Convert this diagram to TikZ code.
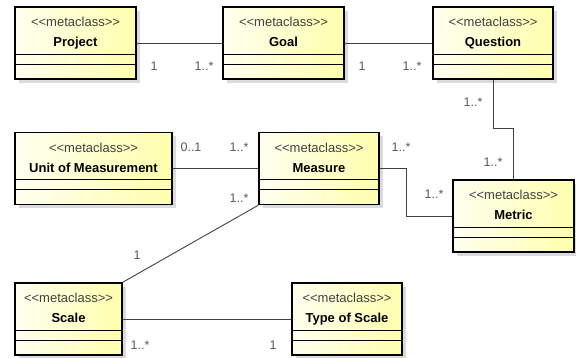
\documentclass[tikz,border=0pt]{standalone}
\usepackage{xcolor}
\usepackage{fontspec}
\setmainfont{Liberation Sans}[Ligatures=TeXOff]
\usepackage{tikz}
\usetikzlibrary{calc, shadows}

\begin{document}
\begin{tikzpicture}[
  x=1pt, y=-1pt,
  metaclass/.style={rectangle, draw=black, line width=1.6pt,
              left color=yellow!6, right color=yellow!32,
              drop shadow={shadow xshift=4pt, shadow yshift=-4pt,
                           fill=black!14, opacity=1},
              inner sep=0pt, minimum height=72pt,
              text height=40pt, text depth=32pt, align=center,
              font=\fontsize{13}{20}\selectfont,
              path picture={
                \draw[line width=0.8pt]
                  ([yshift=-47pt]path picture bounding box.north west) --
                  ([yshift=-47pt]path picture bounding box.north east)
                  ([yshift=-57pt]path picture bounding box.north west) --
                  ([yshift=-57pt]path picture bounding box.north east);
              }},
  assoc/.style={draw=black!75, line width=0.9pt},
  mult/.style={font=\fontsize{12.5}{14}\selectfont, text=black!65, inner sep=0pt}
]
\useasboundingbox (0,0) rectangle (576,358);

% Metaclasses
\node[metaclass, minimum width=121pt] (project) at (75.5,43)
  {\textcolor{black!75}{<<metaclass>>}\\\textbf{Project}};
\node[metaclass, minimum width=121pt] (goal) at (283.5,43)
  {\textcolor{black!75}{<<metaclass>>}\\\textbf{Goal}};
\node[metaclass, minimum width=120pt] (question) at (493,43)
  {\textcolor{black!75}{<<metaclass>>}\\\textbf{Question}};
\node[metaclass, minimum width=157pt] (unit) at (93.5,168.5)
  {\textcolor{black!75}{<<metaclass>>}\\\textbf{Unit of Measurement}};
\node[metaclass, minimum width=120pt] (measure) at (319,168.5)
  {\textcolor{black!75}{<<metaclass>>}\\\textbf{Measure}};
\node[metaclass, minimum width=121pt] (metric) at (513.5,216)
  {\textcolor{black!75}{<<metaclass>>}\\\textbf{Metric}};
\node[metaclass, minimum width=107pt] (scale) at (68.5,319)
  {\textcolor{black!75}{<<metaclass>>}\\\textbf{Scale}};
\node[metaclass, minimum width=110pt] (typescale) at (347,319)
  {\textcolor{black!75}{<<metaclass>>}\\\textbf{Type of Scale}};

% Bends of the routed associations
\coordinate (qbend) at (493,128);
\coordinate (mbend) at (406,168.5);

% Associations
\draw[assoc] (project.east) -- (goal.west);
\draw[assoc] (goal.east) -- (question.west);
\draw[assoc] (question.south) -- (qbend) -| (metric.north);
\draw[assoc] (unit.east) -- (measure.west);
\draw[assoc] (measure.east) -- (mbend) |- (metric.west);
\draw[assoc] (measure.south west) -- (scale.north east);
\draw[assoc] (scale.east) -- (typescale.west);

% Multiplicities
\node[mult] (m-pg1) at (154,66) {1};
\node[mult] (m-pg2) at (204,66) {1..*};
\node[mult] (m-gq1) at (362,66) {1};
\node[mult] (m-gq2) at (412,66) {1..*};
\node[mult] (m-qm1) at (473,102) {1..*};
\node[mult] (m-qm2) at (493,162) {1..*};
\node[mult] (m-um1) at (191,147) {0..1};
\node[mult] (m-um2) at (239,147) {1..*};
\node[mult] (m-mm1) at (401,147) {1..*};
\node[mult] (m-mm2) at (434,194) {1..*};
\node[mult] (m-ms1) at (239,198) {1..*};
\node[mult] (m-ms2) at (137,255) {1};
\node[mult] (m-st1) at (140,345) {1..*};
\node[mult] (m-st2) at (273,345) {1};

\end{tikzpicture}
\end{document}
